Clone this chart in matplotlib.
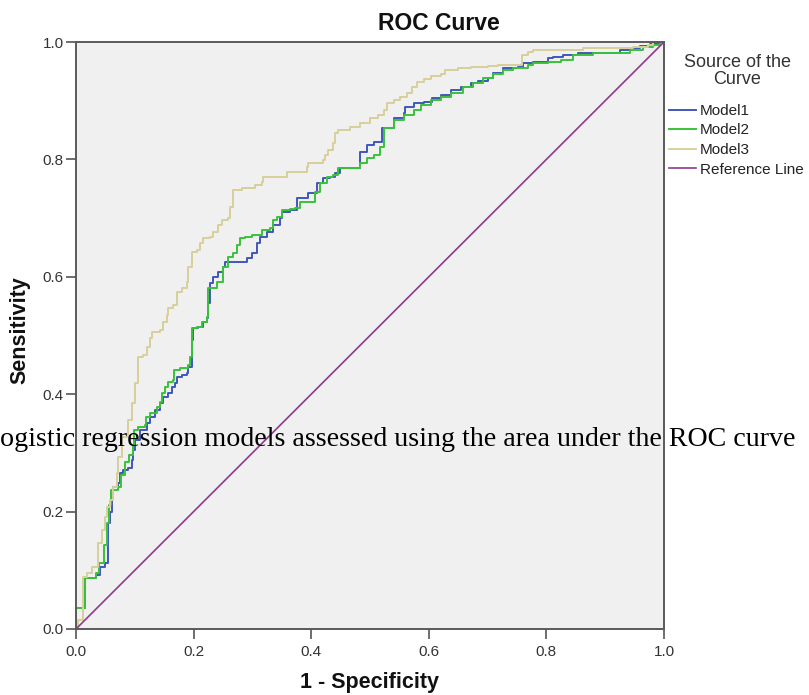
import matplotlib
matplotlib.use("Agg")
import matplotlib.pyplot as plt

# ROC curve points (1 - specificity, sensitivity)
model1_fpr = [0.000, 0.000, 0.015, 0.034, 0.041, 0.049, 0.054, 0.058, 0.061, 0.063,
              0.071, 0.075, 0.080, 0.089, 0.095, 0.097, 0.100, 0.109, 0.121, 0.126,
              0.134, 0.143, 0.148, 0.157, 0.163, 0.169, 0.172, 0.180, 0.189, 0.191,
              0.197, 0.199, 0.208, 0.216, 0.223, 0.225, 0.228, 0.233, 0.242, 0.250,
              0.254, 0.291, 0.300, 0.308, 0.313, 0.325, 0.335, 0.347, 0.351, 0.364,
              0.376, 0.395, 0.410, 0.420, 0.432, 0.441, 0.449, 0.483, 0.495, 0.506,
              0.521, 0.540, 0.557, 0.560, 0.574, 0.591, 0.606, 0.620, 0.637, 0.654,
              0.671, 0.683, 0.700, 0.710, 0.727, 0.751, 0.761, 0.778, 0.802, 0.812,
              0.829, 0.853, 0.926, 0.943, 0.960, 0.977, 0.994, 1.000]
model1_tpr = [0.000, 0.036, 0.087, 0.092, 0.106, 0.112, 0.181, 0.199, 0.223, 0.242,
              0.249, 0.266, 0.271, 0.274, 0.288, 0.305, 0.322, 0.339, 0.351, 0.361,
              0.373, 0.385, 0.395, 0.402, 0.412, 0.419, 0.429, 0.433, 0.436, 0.446,
              0.492, 0.513, 0.514, 0.523, 0.530, 0.555, 0.589, 0.600, 0.608, 0.617,
              0.625, 0.632, 0.641, 0.658, 0.668, 0.676, 0.688, 0.700, 0.710, 0.714,
              0.734, 0.743, 0.760, 0.768, 0.770, 0.777, 0.785, 0.813, 0.825, 0.830,
              0.853, 0.871, 0.879, 0.889, 0.896, 0.898, 0.905, 0.910, 0.918, 0.923,
              0.930, 0.934, 0.939, 0.947, 0.955, 0.957, 0.964, 0.966, 0.973, 0.974,
              0.978, 0.981, 0.986, 0.990, 0.993, 0.997, 1.000, 1.000]

model2_fpr = [0.000, 0.000, 0.015, 0.034, 0.039, 0.048, 0.053, 0.056, 0.060, 0.071,
              0.077, 0.083, 0.090, 0.097, 0.099, 0.106, 0.117, 0.119, 0.126, 0.138,
              0.143, 0.146, 0.151, 0.157, 0.165, 0.167, 0.177, 0.191, 0.194, 0.197,
              0.206, 0.214, 0.223, 0.225, 0.240, 0.250, 0.259, 0.267, 0.274, 0.279,
              0.288, 0.300, 0.317, 0.330, 0.335, 0.342, 0.351, 0.364, 0.373, 0.381,
              0.407, 0.415, 0.427, 0.437, 0.446, 0.483, 0.495, 0.506, 0.517, 0.523,
              0.540, 0.557, 0.574, 0.586, 0.603, 0.620, 0.637, 0.659, 0.676, 0.693,
              0.710, 0.727, 0.744, 0.768, 0.778, 0.802, 0.824, 0.846, 0.880, 0.943,
              0.965, 0.982, 0.994, 1.000]
model2_tpr = [0.000, 0.036, 0.087, 0.095, 0.112, 0.143, 0.181, 0.211, 0.237, 0.242,
              0.262, 0.284, 0.296, 0.313, 0.339, 0.344, 0.348, 0.361, 0.368, 0.378,
              0.387, 0.402, 0.412, 0.421, 0.424, 0.441, 0.445, 0.450, 0.463, 0.513,
              0.514, 0.523, 0.532, 0.581, 0.591, 0.617, 0.634, 0.641, 0.654, 0.666,
              0.668, 0.671, 0.680, 0.683, 0.697, 0.702, 0.714, 0.716, 0.717, 0.727,
              0.744, 0.760, 0.770, 0.773, 0.785, 0.794, 0.802, 0.807, 0.821, 0.853,
              0.867, 0.876, 0.884, 0.893, 0.901, 0.906, 0.913, 0.923, 0.930, 0.939,
              0.945, 0.952, 0.955, 0.961, 0.964, 0.966, 0.969, 0.978, 0.981, 0.986,
              0.991, 0.995, 1.000, 1.000]

model3_fpr = [0.000, 0.003, 0.012, 0.019, 0.027, 0.037, 0.044, 0.049, 0.053, 0.058,
              0.063, 0.070, 0.071, 0.078, 0.089, 0.095, 0.100, 0.106, 0.114, 0.121,
              0.126, 0.129, 0.143, 0.148, 0.155, 0.157, 0.165, 0.172, 0.180, 0.189,
              0.191, 0.197, 0.206, 0.211, 0.216, 0.228, 0.233, 0.242, 0.249, 0.259,
              0.262, 0.267, 0.283, 0.305, 0.317, 0.318, 0.359, 0.393, 0.395, 0.420,
              0.424, 0.429, 0.437, 0.441, 0.446, 0.466, 0.483, 0.500, 0.514, 0.523,
              0.529, 0.540, 0.551, 0.563, 0.572, 0.580, 0.591, 0.603, 0.620, 0.628,
              0.649, 0.671, 0.700, 0.717, 0.759, 0.768, 0.778, 0.863, 0.948, 0.972,
              0.982, 1.000]
model3_tpr = [0.000, 0.015, 0.089, 0.095, 0.106, 0.147, 0.169, 0.191, 0.208, 0.220,
              0.242, 0.266, 0.293, 0.327, 0.356, 0.385, 0.419, 0.463, 0.467, 0.480,
              0.496, 0.506, 0.509, 0.523, 0.535, 0.547, 0.552, 0.574, 0.581, 0.591,
              0.617, 0.642, 0.646, 0.658, 0.666, 0.668, 0.676, 0.688, 0.697, 0.700,
              0.719, 0.748, 0.751, 0.756, 0.761, 0.770, 0.779, 0.787, 0.794, 0.799,
              0.807, 0.816, 0.828, 0.845, 0.850, 0.855, 0.862, 0.871, 0.876, 0.884,
              0.896, 0.901, 0.906, 0.913, 0.923, 0.932, 0.937, 0.942, 0.945, 0.952,
              0.955, 0.957, 0.959, 0.961, 0.978, 0.983, 0.986, 0.990, 0.991, 0.995,
              1.000, 1.000]

ref_x = [0.0, 1.0]
ref_y = [0.0, 1.0]

labels = ["Model1", "Model2", "Model3", "Reference Line"]
colors = ["#4157BA", "#38C23A", "#D8D09A", "#8E3A8F"]
ticks = [0.0, 0.2, 0.4, 0.6, 0.8, 1.0]

W, H = 809, 695
fig = plt.figure(figsize=(W / 100, H / 100), dpi=100)
ax = fig.add_axes([76 / W, 1 - 629 / H, 588 / W, 587 / H])
ax.set_facecolor("#F0F0F0")

ax.plot(model1_fpr, model1_tpr, drawstyle="steps-post", color=colors[0], lw=1.4, label=labels[0])
ax.plot(model2_fpr, model2_tpr, drawstyle="steps-post", color=colors[1], lw=1.4, label=labels[1])
ax.plot(model3_fpr, model3_tpr, drawstyle="steps-post", color=colors[2], lw=1.4, label=labels[2])
ax.plot(ref_x, ref_y, color=colors[3], lw=1.2, label=labels[3])

ax.set_xlim(0, 1)
ax.set_ylim(0, 1)
ax.set_xticks(ticks)
ax.set_yticks(ticks)
ax.set_xticklabels([f"{t:.1f}" for t in ticks])
ax.set_yticklabels([f"{t:.1f}" for t in ticks])
ax.tick_params(direction="out", length=7.5, width=1.2, color="#555555",
               labelsize=11, labelcolor="#333333", pad=1.5)
ax.tick_params(axis="x", pad=4)
for lab in ax.get_xticklabels() + ax.get_yticklabels():
    lab.set_family("Liberation Sans")
for sp in ax.spines.values():
    sp.set_color("#5A5A5A")
    sp.set_linewidth(1.4)

ax.set_xlabel("1 - Specificity", family="Liberation Sans", fontsize=15.5,
              fontweight="bold", color="#111111")
ax.set_ylabel("Sensitivity", family="Liberation Sans", fontsize=15.5,
              fontweight="bold", color="#111111")
ax.xaxis.set_label_coords(0.5, -0.073)
ax.yaxis.set_label_coords(-0.078, 0.51)

fig.text(439 / W, 1 - 23.5 / H, "ROC Curve", family="Liberation Sans", fontsize=16.5,
         fontweight="bold", ha="center", va="center", color="#111111")

# legend title and entries
fig.text(737 / W, 1 - 71 / H, "Source of the\nCurve", family="Liberation Sans",
         fontsize=13, ha="center", va="center", linespacing=1.05,
         multialignment="center", color="#333333")
leg = ax.legend(loc="upper left", bbox_to_anchor=(669 / W, 1 - 104 / H),
                bbox_transform=fig.transFigure, frameon=False,
                prop={"family": "Liberation Sans", "size": 11},
                handlelength=1.75, handletextpad=0.25, labelspacing=0.36,
                borderpad=0, borderaxespad=0)
for t in leg.get_texts():
    t.set_color("#222222")

fig.text(0, 1 - 446 / H,
         "ogistic regression models assessed using the area under the ROC curve",
         family="Liberation Serif", fontsize=20.2, ha="left", va="baseline", color="black")

fig.savefig("out.png", dpi=100)
